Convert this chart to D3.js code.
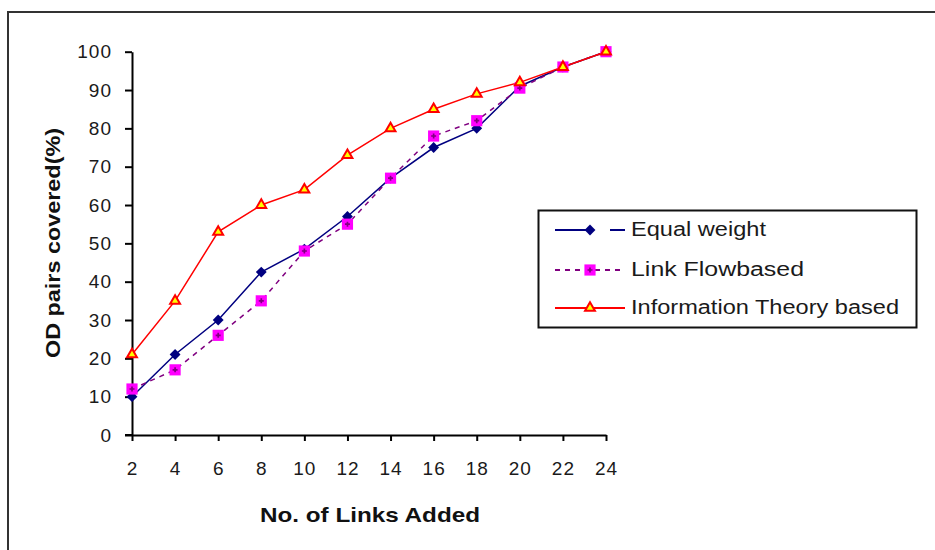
<!DOCTYPE html>
<html><head><meta charset="utf-8">
<script src="https://cdn.jsdelivr.net/npm/d3@7"></script>
<style>
html,body{margin:0;padding:0;background:#fff;}
svg{display:block;font-family:"Liberation Sans",Arial,sans-serif;}
</style></head>
<body>
<svg id="c" width="935" height="550"></svg>
<script>
const xValues = [2,4,6,8,10,12,14,16,18,20,22,24];
const yTicks = [0,10,20,30,40,50,60,70,80,90,100];
const equalWeight = [10,21,30,42.5,48.5,57,67,75,80,91,96,100];
const linkFlow = [12,17,26,35,48,55,67,78,82,90.5,96,100];
const infoTheory = [21,35,53,60,64,73,80,85,89,92,96,100];
const seriesNames = ["Equal weight","Link Flowbased","Information Theory based"];
const xTitle = "No. of Links Added";
const yTitle = "OD pairs covered(%)";

const svg = d3.select("#c");
const x = d3.scaleLinear().domain([2,24]).range([132,606]);
const y = d3.scaleLinear().domain([0,100]).range([435,51.7]);

// outer frame (left and top only visible)
svg.append("path").attr("d","M8,550 V12 H935").attr("fill","none").attr("stroke","#333").attr("stroke-width",2);

// axes
const ya = svg.append("g").attr("transform","translate(132,0)")
  .call(d3.axisLeft(y).tickValues(yTicks).tickSize(7).tickPadding(13).tickSizeOuter(0));
const xa = svg.append("g").attr("transform","translate(0,435)")
  .call(d3.axisBottom(x).tickValues(xValues).tickSize(6).tickPadding(21).tickSizeOuter(0));
[ya,xa].forEach(g=>{
  g.select(".domain").attr("stroke","#000").attr("stroke-width",2);
  g.selectAll(".tick line").attr("stroke","#000").attr("stroke-width",2);
  g.selectAll(".tick text").attr("fill","#1a1a1a").style("font-size","19px")
    .style("font-family","'Liberation Sans',Arial,sans-serif").style("letter-spacing","1px");
});
svg.append("line").attr("x1",125).attr("x2",132).attr("y1",435).attr("y2",435).attr("stroke","#000").attr("stroke-width",2);

// titles
svg.append("text").attr("x",370).attr("y",522).attr("text-anchor","middle")
  .attr("textLength",220).attr("lengthAdjust","spacingAndGlyphs")
  .style("font-size","21px").style("font-weight","bold").attr("fill","#111").text(xTitle);
svg.append("text").attr("transform","translate(60,243) rotate(-90)").attr("text-anchor","middle")
  .attr("textLength",230).attr("lengthAdjust","spacingAndGlyphs")
  .style("font-size","20px").style("font-weight","bold").attr("fill","#111").text(yTitle);

const line = d3.line().x((d,i)=>x(xValues[i])).y(d=>y(d));

svg.append("path").datum(equalWeight).attr("d",line).attr("fill","none").attr("stroke","#000080").attr("stroke-width",1.5);
svg.append("path").datum(linkFlow).attr("d",line).attr("fill","none").attr("stroke","#800080").attr("stroke-width",1.5).attr("stroke-dasharray","5,5");
svg.append("path").datum(infoTheory).attr("d",line).attr("fill","none").attr("stroke","#ff0000").attr("stroke-width",1.5);

const diamond = d3.symbol().type(d3.symbolDiamond2).size(75);
const square = d3.symbol().type(d3.symbolSquare).size(125);
const tri = d3.symbol().type(d3.symbolTriangle2).size(70);
const cross = d3.symbol().type(d3.symbolCross).size(14);

function drawBlue(g,cx,cy){ g.append("path").attr("d",diamond()).attr("transform",`translate(${cx},${cy})`).attr("fill","#000080"); }
function drawPink(g,cx,cy){
  g.append("path").attr("d",square()).attr("transform",`translate(${cx},${cy})`).attr("fill","#ff00ff");
  g.append("path").attr("d",cross()).attr("transform",`translate(${cx},${cy})`).attr("fill","#800080");
}
function drawRed(g,cx,cy){ g.append("path").attr("d",tri()).attr("transform",`translate(${cx},${cy})`).attr("fill","#ffff00").attr("stroke","#ff0000").attr("stroke-width",2); }

const mk = svg.append("g");
equalWeight.forEach((v,i)=>drawBlue(mk,x(xValues[i]),y(v)));
linkFlow.forEach((v,i)=>drawPink(mk,x(xValues[i]),y(v)));
infoTheory.forEach((v,i)=>drawRed(mk,x(xValues[i]),y(v)));

// legend
const lg = svg.append("g");
lg.append("rect").attr("x",538.5).attr("y",210.5).attr("width",378).attr("height",117).attr("fill","#fff").attr("stroke","#111").attr("stroke-width",2);
const ly = [230,270,308];
const lens = [135,173,268];
const bases = [236,276,314];
lg.append("line").attr("x1",555).attr("x2",590).attr("y1",ly[0]).attr("y2",ly[0]).attr("stroke","#000080").attr("stroke-width",2);
lg.append("line").attr("x1",610).attr("x2",625).attr("y1",ly[0]).attr("y2",ly[0]).attr("stroke","#000080").attr("stroke-width",2);
drawBlue(lg,590,ly[0]);
lg.append("line").attr("x1",555).attr("x2",625).attr("y1",ly[1]).attr("y2",ly[1]).attr("stroke","#800080").attr("stroke-width",2).attr("stroke-dasharray","5,5");
drawPink(lg,590,ly[1]);
lg.append("line").attr("x1",555).attr("x2",625).attr("y1",ly[2]).attr("y2",ly[2]).attr("stroke","#ff0000").attr("stroke-width",2);
drawRed(lg,590,ly[2]);
seriesNames.forEach((n,i)=>{
  lg.append("text").attr("x",631).attr("y",bases[i]).attr("textLength",lens[i]).attr("lengthAdjust","spacingAndGlyphs")
    .style("font-size","20px").attr("fill","#1a1a1a").text(n);
});
</script>
</body></html>
